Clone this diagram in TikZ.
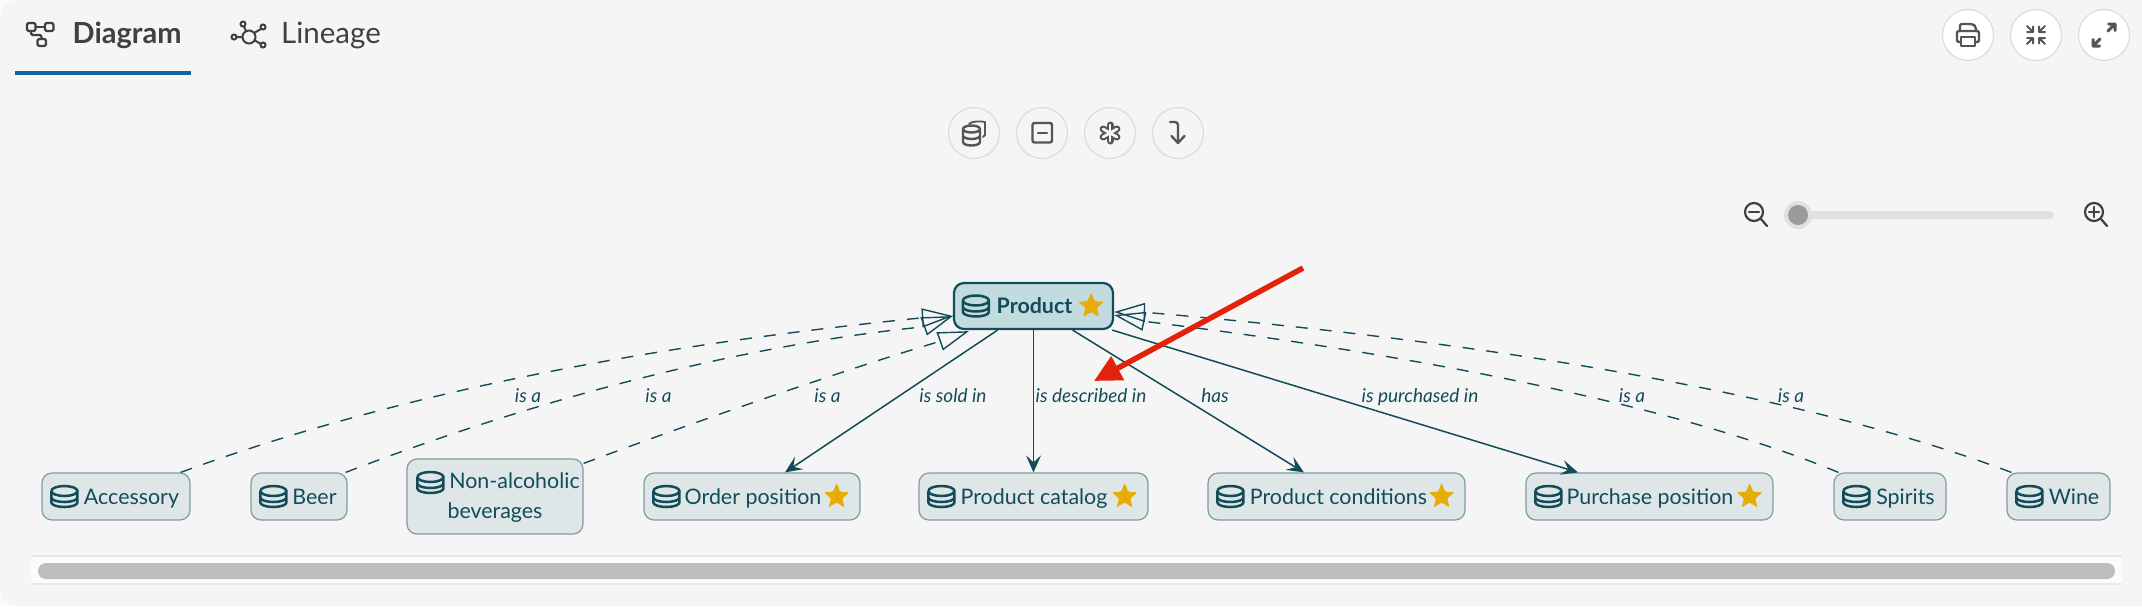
\documentclass[tikz,border=0pt]{standalone}
\usepackage{fontspec}
\setmainfont{Lato}
\usetikzlibrary{arrows.meta,calc}
\definecolor{bg}{HTML}{F5F5F5}
\definecolor{teal}{HTML}{124C58}
\definecolor{boxf}{HTML}{DEE6E8}
\definecolor{boxd}{HTML}{7F9CA2}
\definecolor{prodf}{HTML}{C2DBDF}
\definecolor{starc}{HTML}{E8AC07}
\definecolor{icong}{HTML}{555555}
\definecolor{dark}{HTML}{404040}
\definecolor{ring}{HTML}{DCDCDC}
\definecolor{redc}{HTML}{E0230A}
\definecolor{tabline}{HTML}{0F6A9B}
\definecolor{trk}{HTML}{E0E0E0}
\definecolor{thumb}{HTML}{9B9B9B}
\definecolor{strack}{HTML}{FBFBFB}
\definecolor{sedge}{HTML}{E8E8E8}
\definecolor{sthumb}{HTML}{BDBDBD}
\definecolor{corner}{HTML}{FBFBFB}
\tikzset{
 entbase/.style={draw=boxd,fill=boxf,line width=1.2pt,rounded corners=10pt,text=teal,inner sep=0pt,minimum height=47pt,font=\fontsize{21.4}{29}\selectfont},
 ent/.style={entbase,text height=17pt,text depth=2pt},
 prod/.style={draw=teal,fill=prodf,line width=2.2pt,rounded corners=10pt,text=teal,inner sep=0pt,minimum height=46pt,minimum width=159pt,text height=16.5pt,text depth=2.5pt,font=\fontsize{21.4}{29}\selectfont\bfseries},
 rel/.style={draw=teal,line width=1.5pt,-{Stealth[length=17pt,width=15pt,inset=7pt]}},
 isa/.style={draw=teal,line width=1.4pt,dash pattern=on 12pt off 12pt,-{Triangle[open,length=31pt,width=19pt,line width=1.4pt]}},
 lab/.style={text=teal,font=\fontsize{19}{21}\selectfont\itshape,inner sep=0pt,anchor=base},
 tab/.style={text=dark,inner sep=0pt,anchor=base west},
 btn/.style={draw=ring,line width=1.2pt},
 ico/.style={draw=icong,line width=2.4pt,line cap=round,line join=round},
 db/.pic={\draw[teal,line width=2.5pt] (-13,-5.5) arc[start angle=180,end angle=-180,x radius=13,y radius=5] (-13,-5.5) -- (-13,6) arc[start angle=180,end angle=0,x radius=13,y radius=4.5] -- (13,-5.5) (-13,1) arc[start angle=180,end angle=0,x radius=13,y radius=4.5];},
 fav/.pic={\fill[starc,rounded corners=1.2pt] (-90:13.5)--(-54:6)--(-18:13.5)--(18:6)--(54:13.5)--(90:6)--(126:13.5)--(162:6)--(198:13.5)--(234:6)--cycle;},
}
\begin{document}
\begin{tikzpicture}[x=1pt,y=-1pt]
\useasboundingbox (0,0) rectangle (2142,606);
\fill[corner] (0,0) rectangle (2142,606);
\fill[bg,rounded corners=18pt] (0,0) rectangle (200,606);
\fill[bg] (100,0) rectangle (2142,606);
% tabs
\node[tab,font=\fontsize{29}{32}\selectfont\bfseries] (tdiag) at (72.5,43) {Diagram};
\node[tab,font=\fontsize{29.5}{32}\selectfont] (tline) at (281,43) {Lineage};
\fill[tabline] (15,71) rectangle (191,75);
\begin{scope}[draw=dark,line width=2.2pt,line join=round,rounded corners=1.5pt]
\draw (27,23) rectangle (35.5,31); \draw (45,23) rectangle (53.5,31); \draw (37.5,39) rectangle (46,46);
\draw (35.5,27) -- (45,27); \draw (31,31) -- (31,35) -- (41.5,35) -- (41.5,39);
\end{scope}
\begin{scope}[draw=dark,line width=2pt]
\draw (249,37) circle (6.5);
\draw (243,24) circle (2.5) (263,27) circle (2.5) (234,37) circle (2.5) (263,45) circle (2.5);
\draw (244,26.5) -- (246,31) (261,29) -- (254,33) (236.5,37) -- (242.5,37) (261,44) -- (254,40);
\end{scope}
% centre buttons
\foreach \c in {974,1042,1110,1178} \draw[btn] (\c,133) circle (25.5);
\begin{scope}[ico]
\draw (963,129) arc[start angle=180,end angle=-180,x radius=8.5,y radius=3.5] (963,129) -- (963,142) arc[start angle=180,end angle=0,x radius=8.5,y radius=3.5] -- (980,129) (963,135.5) arc[start angle=180,end angle=0,x radius=8.5,y radius=3.5];
\draw[line width=1.8pt] (969,124) .. controls (971,121) and (981,121) .. (985,122) -- (985,135) -- (983,137);
\draw[rounded corners=2pt] (1032.5,123) rectangle (1052,142.5);
\draw (1038,133) -- (1047,133);
\foreach \a in {30,90,150} \draw[line width=7pt] ($(1110,133)+(\a:8)$) -- ($(1110,133)+(\a+180:8)$);
\foreach \a in {30,90,150} \draw[bg,line width=2.8pt] ($(1110,133)+(\a:8)$) -- ($(1110,133)+(\a+180:8)$);
\draw[rounded corners=3pt] (1170,122) -- (1178,122) -- (1178,143);
\draw (1171.5,136) -- (1178,143) -- (1184.5,136);
\end{scope}
% right buttons
\foreach \c in {1968,2036,2104} \draw[btn,fill=white] (\c,35) circle (25.5);
\begin{scope}[ico]
\draw[rounded corners=2pt] (1960,30) -- (1960,24) -- (1973,24) -- (1976,27) -- (1976,30);
\draw[rounded corners=2pt] (1961,42) -- (1957,42) -- (1957,31) -- (1979,31) -- (1979,42) -- (1975,42);
\draw (1961,37) rectangle (1975,46);
\begin{scope}[line width=2pt]
\draw (2027,26) -- (2033,32) (2033,26.5) -- (2033,32) -- (2027,32);
\draw (2045,26) -- (2039,32) (2039,26.5) -- (2039,32) -- (2045,32);
\draw (2027,44) -- (2033,38) (2033,43.5) -- (2033,38) -- (2027,38);
\draw (2045,44) -- (2039,38) (2039,43.5) -- (2039,38) -- (2045,38);
\end{scope}
\draw[line width=3pt] (2093,46) -- (2100,39) (2093,39.5) -- (2093,46) -- (2099.5,46);
\draw[line width=3pt] (2115,24) -- (2108,31) (2108.5,24) -- (2115,24) -- (2115,30.5);
\end{scope}
% slider
\fill[trk,rounded corners=4pt] (1798,211) rectangle (2054,219);
\fill[trk] (1798,215) circle (14);
\fill[thumb] (1798,215) circle (10);
\begin{scope}[draw=dark,line width=2.2pt,line cap=round]
\draw (1754,212) circle (9); \draw (1761,219) -- (1767,226); \draw (1749,212) -- (1759,212);
\draw (2094,212) circle (9); \draw (2101,219) -- (2107,226); \draw (2089,212) -- (2099,212) (2094,207) -- (2094,217);
\end{scope}
% scrollbar
\fill[strack] (31,555) rectangle (2122,585);
\fill[sedge] (31,555) rectangle (2122,557);
\fill[sedge] (31,583) rectangle (2122,585);
\fill[sthumb,rounded corners=8pt] (38,563) rectangle (2115,579);
% nodes
\node[prod] (product) at (1033.5,306) {\hspace*{2pt}Product};
\node[ent,minimum width=148pt] (acc) at (116,496.5) {\hspace*{31pt}Accessory};
\node[ent,minimum width=96pt] (beer) at (299,496.5) {\hspace*{31pt}Beer};
\node[entbase,align=center,minimum width=176pt,minimum height=75pt] (nonalc) at (495,496.5) {\rule{0pt}{18pt}\hspace*{39pt}Non-alcoholic\\[1pt]beverages};
\node[ent,minimum width=216pt] (order) at (752,496.5) {\hspace*{2pt}Order position};
\node[ent,minimum width=229pt] (catalog) at (1033.5,496.5) {\hspace*{1pt}Product catalog};
\node[ent,minimum width=257pt] (cond) at (1336.5,496.5) {\hspace*{4pt}Product conditions};
\node[ent,minimum width=247pt] (purch) at (1649.5,496.5) {\hspace*{1pt}Purchase position};
\node[ent,minimum width=112pt] (spirits) at (1890,496.5) {\hspace*{31pt}Spirits};
\node[ent,minimum width=103pt] (wine) at (2058.5,496.5) {\hspace*{31pt}Wine};
% icons
\foreach \n/\d in {acc/23,beer/23,order/23,catalog/23,cond/23,purch/23,spirits/23,wine/23} \pic at ([xshift=\d pt]\n.west) {db};
\pic at ([xshift=24pt,yshift=14pt]nonalc.west) {db};
\pic at ([xshift=23pt]product.west) {db};
\foreach \n in {order,catalog,cond,purch} \pic at ([xshift=-24pt]\n.east) {fav};
\pic at ([xshift=-23pt]product.east) {fav};
% relations
\draw[rel] (product) -- ([xshift=33pt]order.north);
\draw[rel] (product) -- (catalog);
\draw[rel] (product) -- ([xshift=-32.5pt]cond.north);
\draw[rel] (product) -- ([xshift=-71.5pt]purch.north);
% is-a
\draw[isa] ([xshift=-10pt]acc.north east) .. controls (381,399) and (622,348) .. ($(product.west)+(-32.5,12)$) -- ($(product.west)+(0,10)$);
\draw[isa] ([xshift=-2pt]beer.north east) .. controls (542,397) and (745,345) .. ($(product.west)+(-31,21)$) -- ($(product.west)+(0,10)$);
\draw[isa] ([yshift=-5pt]nonalc.north east) .. controls (700,420) and (850,368) .. ($(product.south west)+(-14.5,11.7)$) -- ($(product.south west)+(16,1)$);
\draw[isa] ([xshift=5pt]spirits.north west) .. controls (1693,412) and (1451,359) .. ($(product.east)+(31.5,15.5)$) -- ($(product.east)+(0,9)$);
\draw[isa] ([xshift=5pt]wine.north west) .. controls (1814,398) and (1514,344) .. ($(product.east)+(33,6.5)$) -- ($(product.east)+(0,6)$);
% labels
\foreach \n/\x/\t in {la/528/is a,lb/658.5/is a,lc/827.5/is a,ld/953/is sold in,le/1091/is described in,lf/1215/has,lg/1420/is purchased in,lh/1632/is a,li/1791/is a}
 \node[lab] (\n) at (\x,402) {\t};
% red arrow
\coordinate (rs) at (1303,268);
\coordinate (rt) at (1094,381);
\draw[redc,line width=5.5pt,-{Triangle[length=27pt,width=26pt]}] (rs) -- (rt);
\end{tikzpicture}
\end{document}
